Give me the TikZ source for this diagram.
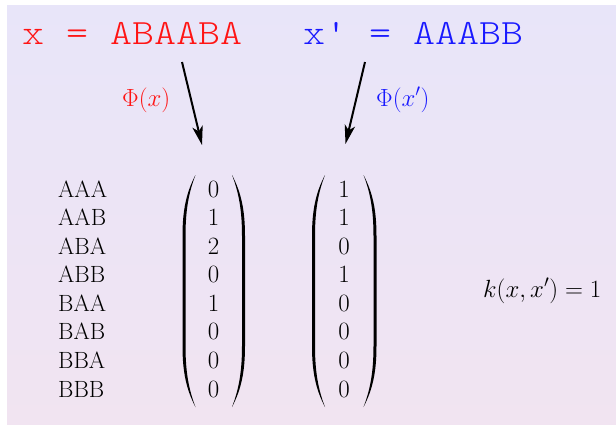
\documentclass[tikz,border=0pt]{standalone}
\usepackage{graphicx}
\usetikzlibrary{arrows.meta}
\definecolor{bgtop}{RGB}{232,229,249}
\definecolor{bgbot}{RGB}{241,228,241}
\definecolor{seqred}{RGB}{255,20,20}
\definecolor{seqblue}{RGB}{25,25,255}

\begin{document}
\begin{tikzpicture}[x=1pt,y=-1pt,
  seq/.style={anchor=base west, inner sep=0pt, font=\fontsize{35.5}{40}\fontseries{l}\ttfamily},
  lab/.style={inner sep=0pt, font=\fontsize{23.5}{28.57}\selectfont},
  maparrow/.style={-{Stealth[length=19pt,width=10.5pt,inset=5pt]}, line width=2pt},
  paren/.pic={
    \fill (13,-116) .. controls (3.5,-98) and (0,-80) .. (0,-55) -- (0,55)
      .. controls (0,80) and (3.5,98) .. (13,116)
      .. controls (6,98) and (3,80) .. (3,55) -- (3,-55)
      .. controls (3,-80) and (6,-98) .. (13,-116) -- cycle;
  },
]
\useasboundingbox (0,0) rectangle (616,426);
% background: vertical blend from lavender to pink, in thin strips
\foreach \i in {0,...,83}{
  \pgfmathsetmacro{\p}{100*\i/83}
  \fill[bgbot!\p!bgtop] (7,5+5*\i) rectangle (616,5+5*\i+5.6);
}
\fill[white] (0,425) rectangle (616,426);

% the two strings
\node[seq, text=seqred] (xs) at (22,44) {\scalebox{1.18}[1]{x = ABAABA}};
\node[seq, text=seqblue] (xps) at (303,44) {\scalebox{1.18}[1]{x\textquotesingle{} = AAABB}};

% feature maps
\node[lab, text=seqred, anchor=base west] (phix) at (122,106) {$\Phi(x)$};
\node[lab, text=seqblue, anchor=base west] (phixp) at (376,106) {$\Phi(x')$};

\coordinate (a1s) at (182,62);
\coordinate (a1e) at (202,145);
\coordinate (a2s) at (365,62);
\coordinate (a2e) at (345.5,144);
\draw[maparrow] (a1s) -- (a1e);
\draw[maparrow] (a2s) -- (a2e);

% substrings of length three
\node[lab, anchor=west] (words) at (58,291.3)
  {\begin{tabular}{@{}l@{}}AAA\\AAB\\ABA\\ABB\\BAA\\BAB\\BBA\\BBB\end{tabular}};

% count vectors
\node[lab] (v1) at (213.5,291.3)
  {$\begin{array}{@{}c@{}}0\\1\\2\\0\\1\\0\\0\\0\end{array}$};
\node[lab] (v2) at (344,291.3)
  {$\begin{array}{@{}c@{}}1\\1\\0\\1\\0\\0\\0\\0\end{array}$};
\pic at (182.5,291) {paren};
\pic[xscale=-1] at (245,291) {paren};
\pic at (312,291) {paren};
\pic[xscale=-1] at (376.5,291) {paren};

% kernel value
\node[lab, anchor=base west] (k) at (483,297) {$k(x,x')=1$};
\end{tikzpicture}
\end{document}
